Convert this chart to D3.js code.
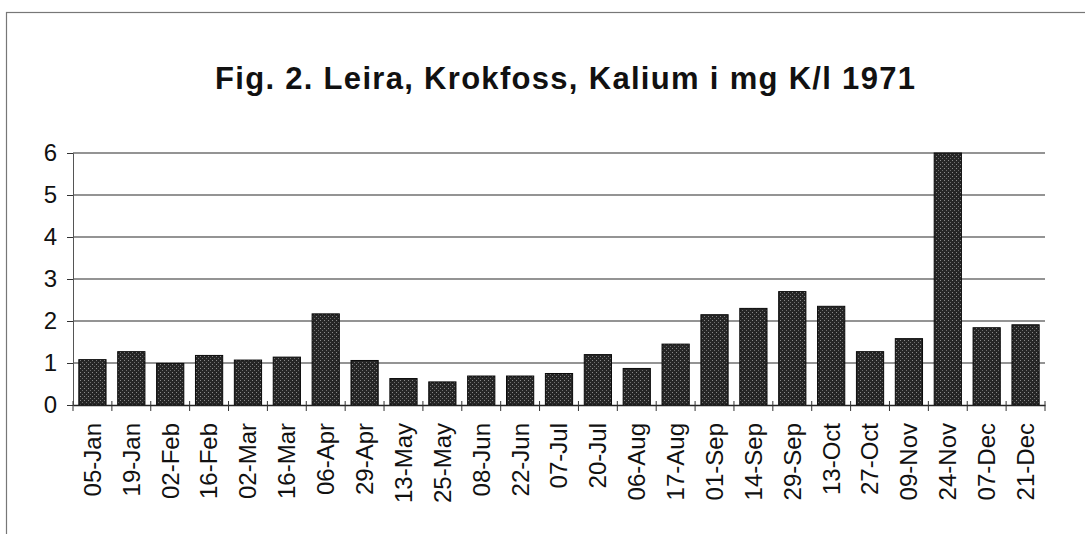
<!DOCTYPE html>
<html>
<head>
<meta charset="utf-8">
<script src="https://cdn.jsdelivr.net/npm/d3@7"></script>
<style>
  body { margin: 0; background: #fff; }
  svg { display: block; }
</style>
</head>
<body>
<div id="chart"></div>
<script>
/* DATA */
const dates = ["05-Jan", "19-Jan", "02-Feb", "16-Feb", "02-Mar", "16-Mar", "06-Apr", "29-Apr",
  "13-May", "25-May", "08-Jun", "22-Jun", "07-Jul", "20-Jul", "06-Aug", "17-Aug",
  "01-Sep", "14-Sep", "29-Sep", "13-Oct", "27-Oct", "09-Nov", "24-Nov", "07-Dec", "21-Dec"];
const kalium = [1.08, 1.27, 0.99, 1.18, 1.07, 1.14, 2.17, 1.06,
  0.63, 0.55, 0.69, 0.69, 0.75, 1.2, 0.87, 1.45,
  2.15, 2.3, 2.7, 2.35, 1.27, 1.58, 6.0, 1.84, 1.91];
const yTicks = [0, 1, 2, 3, 4, 5, 6];
const title = "Fig. 2. Leira, Krokfoss, Kalium i mg K/l 1971";

/* CONSTANTS */
const width = 1085, height = 534;
const margin = { top: 153, bottom: 129, left: 73, right: 40 };

const svg = d3.select("#chart").append("svg")
  .attr("width", width)
  .attr("height", height);

// stippled fill like the scanned bars
const defs = svg.append("defs");
const pat = defs.append("pattern")
  .attr("id", "stipple")
  .attr("width", 4).attr("height", 4)
  .attr("patternUnits", "userSpaceOnUse");
pat.append("rect").attr("width", 4).attr("height", 4).attr("fill", "#262626");
pat.append("rect").attr("x", 0).attr("y", 0).attr("width", 1).attr("height", 1).attr("fill", "#8a8a8a");
pat.append("rect").attr("x", 2).attr("y", 2).attr("width", 1).attr("height", 1).attr("fill", "#6e6e6e");

// outer frame
svg.append("rect")
  .attr("x", 6.5).attr("y", 12.5)
  .attr("width", width + 10).attr("height", height + 10)
  .attr("fill", "none")
  .attr("stroke", "#777")
  .attr("stroke-width", 1.2);

const xScale = d3.scaleBand()
  .domain(dates)
  .range([margin.left, width - margin.right])
  .paddingInner(0.3)
  .paddingOuter(0.15);

const yScale = d3.scaleLinear()
  .domain([0, 6])
  .range([height - margin.bottom, margin.top]);

// title
svg.append("text")
  .attr("x", 565)
  .attr("y", 89)
  .attr("text-anchor", "middle")
  .attr("font-family", "Liberation Sans, Arial, sans-serif")
  .attr("font-weight", "bold")
  .attr("font-size", 31)
  .attr("fill", "#111")
  .attr("textLength", 700)
  .attr("lengthAdjust", "spacing")
  .text(title);

// gridlines
svg.append("g")
  .selectAll("line")
  .data(yTicks.filter(d => d > 0))
  .join("line")
  .attr("x1", margin.left)
  .attr("x2", width - margin.right)
  .attr("y1", d => yScale(d))
  .attr("y2", d => yScale(d))
  .attr("stroke", "#2a2a2a")
  .attr("stroke-width", 1.2);

// y axis
const yAxis = svg.append("g")
  .attr("transform", `translate(${margin.left},0)`)
  .call(d3.axisLeft(yScale).tickValues(yTicks).tickSize(6).tickPadding(10).tickFormat(d3.format("d")));
yAxis.select(".domain").attr("stroke", "#555").attr("stroke-width", 1);
yAxis.selectAll(".tick line").attr("stroke", "#333");
yAxis.selectAll("text")
  .attr("font-family", "Liberation Sans, Arial, sans-serif")
  .attr("font-size", 24)
  .attr("fill", "#111");

// bars
svg.append("g")
  .selectAll("rect")
  .data(kalium)
  .join("rect")
  .attr("x", (d, i) => xScale(dates[i]))
  .attr("y", d => yScale(d))
  .attr("width", xScale.bandwidth())
  .attr("height", d => yScale(0) - yScale(d))
  .attr("fill", "url(#stipple)")
  .attr("stroke", "#0a0a0a")
  .attr("stroke-width", 1);

// x axis
const xAxis = svg.append("g")
  .attr("transform", `translate(0,${yScale(0)})`)
  .call(d3.axisBottom(xScale).tickSize(0).tickPadding(0));
xAxis.select(".domain").attr("stroke", "#222").attr("stroke-width", 1.3);
xAxis.selectAll("text")
  .attr("font-family", "Liberation Sans, Arial, sans-serif")
  .attr("font-size", 24)
  .attr("fill", "#111")
  .attr("text-anchor", "end")
  .attr("dy", "0.35em")
  .attr("transform", "translate(0,18) rotate(-90)");

// tick marks between categories
const step = xScale.step();
const boundaries = d3.range(dates.length + 1).map(i => margin.left + i * step);
svg.append("g")
  .selectAll("line")
  .data(boundaries)
  .join("line")
  .attr("x1", d => d).attr("x2", d => d)
  .attr("y1", yScale(0) - 4)
  .attr("y2", yScale(0) + 6)
  .attr("stroke", "#333")
  .attr("stroke-width", 1);
</script>
</body>
</html>
